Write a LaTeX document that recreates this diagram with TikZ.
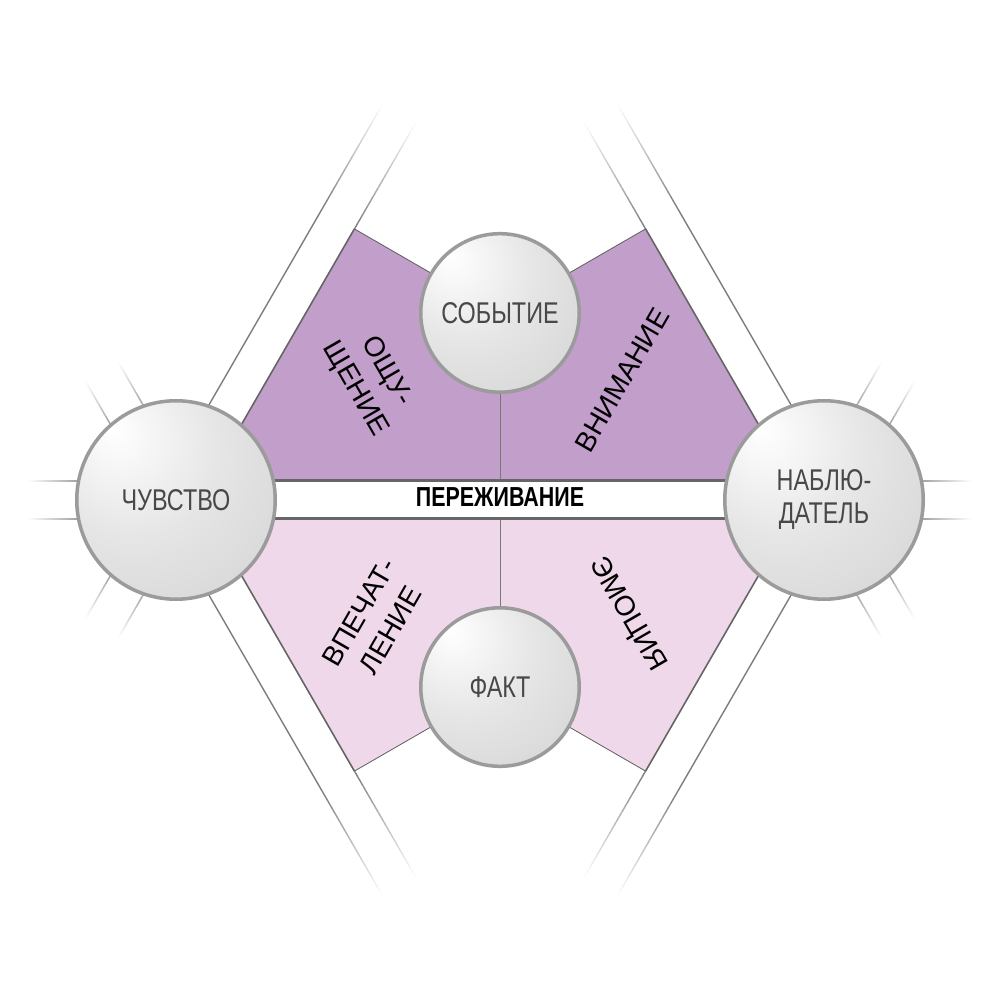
\documentclass[tikz,border=0pt]{standalone}
\usepackage{fontspec}
\setmainfont{Liberation Sans}
\newfontfamily\circfont[FakeStretch=0.78]{Liberation Sans}
\newfontfamily\rotfont{Liberation Sans}
\definecolor{purpA}{RGB}{194,158,202}
\definecolor{purpB}{RGB}{240,216,235}
\definecolor{bandcol}{RGB}{102,102,102}
\definecolor{raycol}{RGB}{125,125,125}
\definecolor{raylight}{RGB}{165,165,165}
\definecolor{edgecol}{RGB}{95,95,95}
\definecolor{sepcol}{RGB}{120,120,120}
\definecolor{rimcol}{RGB}{155,155,155}
\definecolor{txtcol}{RGB}{72,72,72}
\pgfdeclareradialshading{ballshade}{\pgfpoint{-16bp}{18bp}}{color(0bp)=(white); color(22bp)=(gray!20); color(48bp)=(gray!36); color(72bp)=(gray!52)}
% #1 centre, #2 angle, #3 offset, #4 from, #5 solid until, #6 to, #7 colour
\newcommand\fadeline[7]{%
  \begin{scope}[shift={(#1)},rotate=#2,yshift=#3pt]
    \draw[#7,line width=1.4pt] (#4,0) -- (#5,0);
    \foreach \k in {0,...,23}{%
      \pgfmathsetmacro\fa{#5+(#6-#5)*\k/24}%
      \pgfmathsetmacro\fb{#5+(#6-#5)*(\k+1)/24+0.4}%
      \pgfmathsetmacro\fc{100*(1-(\k+0.5)/24)}%
      \draw[#7!\fc!white,line width=1.4pt] (\fa,0) -- (\fb,0);
    }%
  \end{scope}}
\tikzset{
  ballbase/.style={circle, draw=rimcol, line width=3.5pt, shade, shading=ballshade,
    inner sep=0pt, text=txtcol, align=center, font=\circfont\fontsize{30}{33}\selectfont},
  bigball/.style={ballbase, minimum size=198.5pt},
  smallball/.style={ballbase, minimum size=158.5pt},
  rotlab/.style={font=\rotfont\fontsize{28}{36}\selectfont, align=center, text=black, inner sep=0pt},
  bandlab/.style={font=\circfont\bfseries\fontsize{27.5}{30}\selectfont, text=black, inner sep=0pt},
  sideedge/.style={draw=bandcol, line width=1.5pt},
  topedge/.style={draw=edgecol, line width=0.8pt},
  sepline/.style={draw=sepcol, line width=1pt},
  bandline/.style={draw=bandcol, line width=3pt}
}
\begin{document}
\begin{tikzpicture}[x=1pt,y=1pt]
  \useasboundingbox (-500,-500) rectangle (500,500);
  \fill[white] (-500,-500) rectangle (500,500);
  % key points
  \coordinate (C1) at (-324,0);
  \coordinate (C2) at (324,0);
  \coordinate (T) at (0,187.06);
  \coordinate (B) at (0,-187.06);
  \coordinate (A1) at (-145.55,271.09);
  \coordinate (A2) at (145.55,271.09);
  \coordinate (A3) at (-145.55,-271.09);
  \coordinate (A4) at (145.55,-271.09);
  \coordinate (P1) at (-291.1,19);
  \coordinate (P2) at (291.1,19);
  \coordinate (P3) at (-291.1,-19);
  \coordinate (P4) at (291.1,-19);
  \coordinate (M1) at (0,19);
  \coordinate (M2) at (0,-19);
  \coordinate (L1) at (-324,19);
  \coordinate (R1) at (324,19);
  \coordinate (L2) at (-324,-19);
  \coordinate (R2) at (324,-19);
  % short rays
  \foreach \a in {120,180,240}{\foreach \o in {-19,19}{\fadeline{C1}{\a}{\o}{90}{100}{148}{raylight}}}
  \foreach \a in {0,60,-60}{\foreach \o in {-19,19}{\fadeline{C2}{\a}{\o}{90}{100}{148}{raylight}}}
  % long bands
  \foreach \a in {60,-60}{\foreach \o in {-19,19}{\fadeline{C1}{\a}{\o}{0}{324}{446}{raycol}}}
  \foreach \a in {120,240}{\foreach \o in {-19,19}{\fadeline{C2}{\a}{\o}{0}{324}{446}{raycol}}}
  % purple fields
  \fill[purpA] (P1) -- (A1) -- (T) -- (A2) -- (P2) -- cycle;
  \fill[purpB] (P3) -- (A3) -- (B) -- (A4) -- (P4) -- cycle;
  \draw[sideedge] (P1) -- (A1);
  \draw[sideedge] (P2) -- (A2);
  \draw[sideedge] (P3) -- (A3);
  \draw[sideedge] (P4) -- (A4);
  \draw[topedge] (A1) -- (T) -- (A2);
  \draw[topedge] (A3) -- (B) -- (A4);
  \draw[sepline] (T) -- (M1);
  \draw[sepline] (B) -- (M2);
  % central band
  \draw[bandline] (L1) -- (R1);
  \draw[bandline] (L2) -- (R2);
  \node[bandlab] (perezh) at (0,2.5) {ПЕРЕЖИВАНИЕ};
  % field labels
  \node[rotlab, rotate=-60] (oshch) at (-129.5,119.5) {ОЩУ-\\ЩЕНИЕ};
  \node[rotlab, rotate=60] (vnim) at (122,120) {ВНИМАНИЕ};
  \node[rotlab, rotate=60] (vpech) at (-125,-121.5) {ВПЕЧАТ-\\ЛЕНИЕ};
  \node[rotlab, rotate=-60] (emoc) at (127.5,-115) {ЭМОЦИЯ};
  % spheres
  \node[bigball] (chuv) at (C1) {ЧУВСТВО};
  \node[bigball] (nabl) at (C2) {НАБЛЮ-\\ДАТЕЛЬ};
  \node[smallball] (sob) at (T) {СОБЫТИЕ};
  \node[smallball] (fakt) at (B) {ФАКТ};
\end{tikzpicture}
\end{document}
